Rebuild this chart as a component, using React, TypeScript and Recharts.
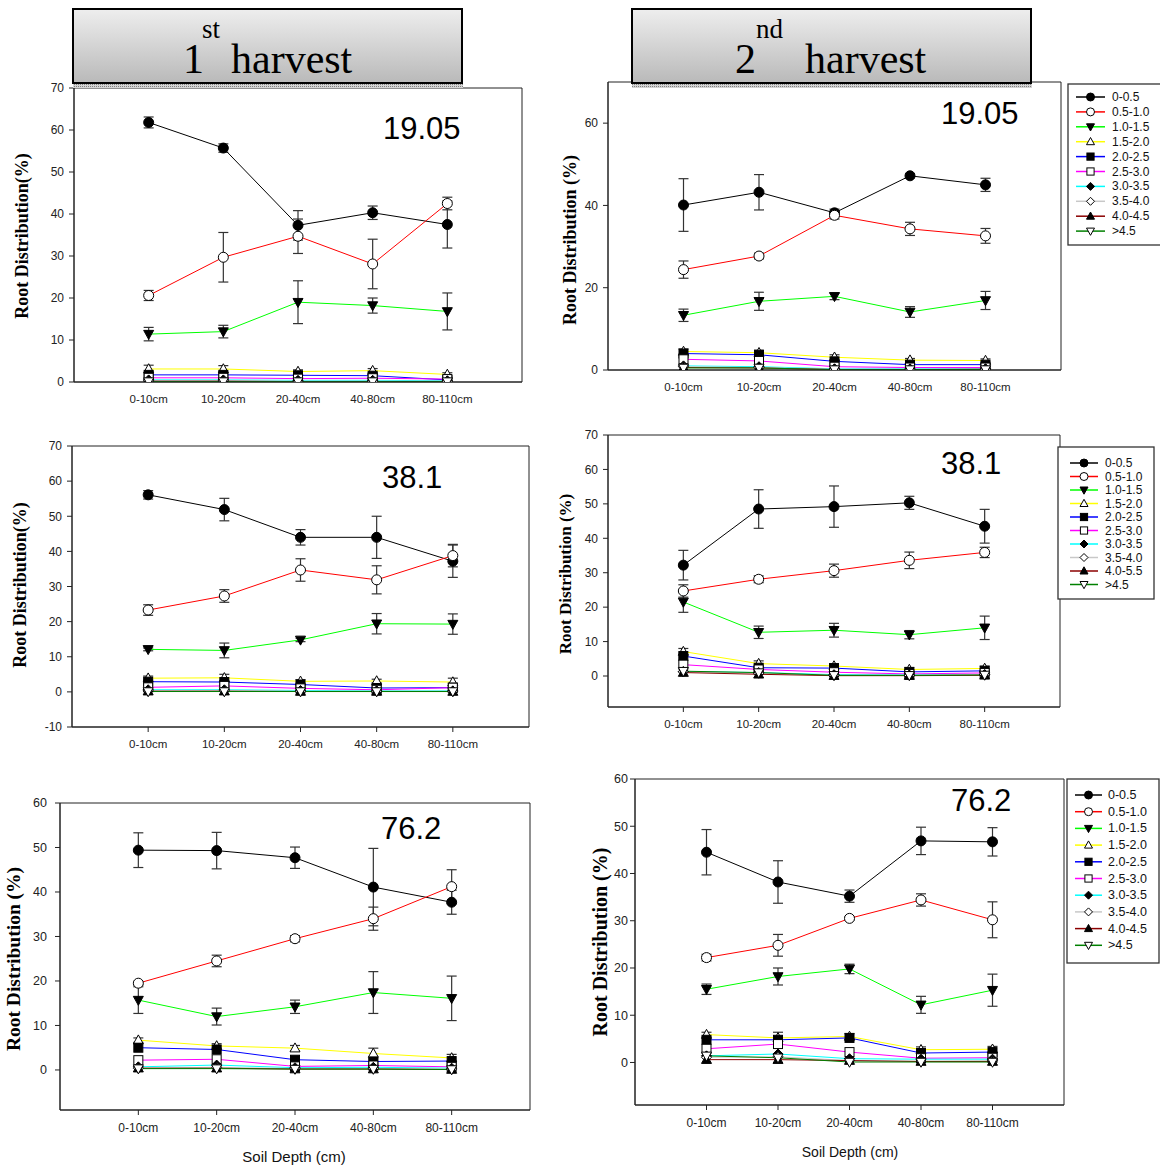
import React from 'react';
import { LineChart, Line, XAxis, YAxis, ErrorBar, ReferenceArea } from 'recharts';

const depths = ['0-10cm', '10-20cm', '20-40cm', '40-80cm', '80-110cm'];
const sizeClasses = ['0-0.5', '0.5-1.0', '1.0-1.5', '1.5-2.0', '2.0-2.5', '2.5-3.0', '3.0-3.5', '3.5-4.0', '4.0-4.5', '>4.5'];
// the middle legend in the source has a typo, kept as printed
const sizeClassesMid = ['0-0.5', '0.5-1.0', '1.0-1.5', '1.5-2.0', '2.0-2.5', '2.5-3.0', '3.0-3.5', '3.5-4.0', '4.0-5.5', '>4.5'];

// 1st harvest, 19.05
const h1a = [
  [61.8, 55.7, 37.3, 40.3, 37.5],
  [20.6, 29.7, 34.7, 28.1, 42.5],
  [11.4, 12.0, 19.0, 18.2, 16.8],
  [3.1, 3.1, 2.5, 2.7, 1.8],
  [1.7, 1.7, 1.6, 1.5, 0.5],
  [1.0, 1.0, 0.8, 0.9, 0.7],
  [0.5, 0.5, 0.4, 0.4, 0.3],
  [0.3, 0.3, 0.2, 0.2, 0.2],
  [0.2, 0.2, 0.1, 0.1, 0.1],
  [0.1, 0.1, 0.1, 0.1, 0.1],
];
const h1aErr = [
  [1.3, 1.0, 3.5, 1.6, 5.6],
  [1.2, 5.9, 4.1, 5.9, 1.5],
  [1.6, 1.5, 5.1, 1.8, 4.4],
  [0.9, 0.8, 0.4, 0.5, 0.4],
];

// 2nd harvest, 19.05
const h2a = [
  [40.1, 43.2, 38.2, 47.2, 45.0],
  [24.4, 27.7, 37.6, 34.3, 32.6],
  [13.3, 16.7, 17.9, 14.1, 16.9],
  [4.5, 4.2, 3.1, 2.4, 2.3],
  [4.0, 3.7, 2.1, 1.3, 1.3],
  [2.6, 2.2, 0.8, 0.6, 0.6],
  [1.0, 0.8, 0.3, 0.3, 0.3],
  [0.8, 0.6, 0.2, 0.2, 0.2],
  [0.6, 0.5, 0.1, 0.1, 0.2],
  [0.5, 0.5, 0.1, 0.1, 0.1],
];
const h2aErr = [
  [6.4, 4.3, 0.9, 0.5, 1.6],
  [2.1, 0.7, 0.9, 1.6, 1.8],
  [1.5, 2.2, 0.8, 1.3, 2.2],
  [0.6, 0.6, 0.6, 0.4, 0.4],
];

// 1st harvest, 38.1
const h1b = [
  [56.1, 51.9, 44.0, 44.0, 37.2],
  [23.3, 27.3, 34.7, 31.9, 38.8],
  [12.1, 11.8, 14.8, 19.4, 19.3],
  [3.9, 4.0, 3.0, 3.1, 2.8],
  [2.9, 2.8, 2.1, 1.1, 1.2],
  [1.3, 1.7, 1.0, 0.6, 1.2],
  [0.6, 0.6, 0.4, 0.3, 0.3],
  [0.3, 0.3, 0.2, 0.2, 0.2],
  [0.2, 0.2, 0.1, 0.1, 0.1],
  [0.1, 0.1, 0.1, 0.1, 0.1],
];
const h1bErr = [
  [1.2, 3.2, 2.2, 6.0, 4.6],
  [1.5, 1.8, 3.2, 4.0, 3.2],
  [0.4, 2.1, 0.5, 2.9, 2.9],
  [0.6, 1.0, 0.5, 0.5, 1.1],
];

// 2nd harvest, 38.1
const h2b = [
  [32.2, 48.5, 49.2, 50.3, 43.5],
  [24.7, 28.1, 30.6, 33.6, 35.9],
  [21.5, 12.7, 13.3, 12.0, 14.0],
  [7.1, 3.6, 2.9, 1.9, 2.2],
  [5.8, 2.4, 2.3, 1.2, 1.5],
  [3.3, 1.9, 1.1, 0.6, 0.9],
  [1.3, 1.0, 0.4, 0.3, 0.4],
  [1.2, 0.8, 0.2, 0.2, 0.4],
  [1.0, 0.5, 0.1, 0.1, 0.2],
  [1.4, 1.0, 0.2, 0.2, 0.3],
];
const h2bErr = [
  [4.3, 5.6, 6.0, 1.9, 4.9],
  [1.8, 1.0, 1.9, 2.4, 1.5],
  [3.0, 1.8, 2.0, 1.2, 3.4],
  [0.9, 0.8, 0.6, 0.5, 0.7],
];

// 1st harvest, 76.2
const h1c = [
  [49.4, 49.3, 47.7, 41.1, 37.7],
  [19.5, 24.5, 29.5, 34.0, 41.2],
  [15.7, 12.0, 14.2, 17.4, 16.1],
  [6.7, 5.4, 4.9, 3.7, 2.7],
  [5.0, 4.6, 2.3, 1.9, 2.0],
  [2.2, 2.4, 0.8, 1.0, 0.7],
  [0.7, 1.1, 0.5, 0.6, 0.4],
  [0.4, 0.6, 0.3, 0.3, 0.2],
  [0.4, 0.4, 0.2, 0.2, 0.1],
  [0.3, 0.3, 0.2, 0.2, 0.1],
];
const h1cErr = [
  [3.9, 4.1, 2.4, 8.7, 2.7],
  [0.4, 1.3, 0.7, 2.6, 3.8],
  [3.0, 1.9, 1.5, 4.7, 5.0],
  [0.5, 0.5, 0.6, 1.2, 0.8],
];

// 2nd harvest, 76.2
const h2c = [
  [44.5, 38.2, 35.2, 46.9, 46.7],
  [22.2, 24.8, 30.5, 34.4, 30.2],
  [15.5, 18.2, 19.8, 12.2, 15.3],
  [5.9, 5.2, 5.5, 2.7, 2.8],
  [4.8, 4.8, 5.2, 2.0, 2.2],
  [2.9, 3.9, 2.2, 0.9, 1.0],
  [1.4, 1.8, 0.8, 0.7, 0.7],
  [1.1, 1.2, 0.4, 0.3, 0.4],
  [0.6, 0.6, 0.4, 0.2, 0.2],
  [1.4, 1.0, 0.1, 0.1, 0.1],
];
const h2cErr = [
  [4.8, 4.5, 1.3, 2.9, 3.0],
  [0.7, 2.3, 0.4, 1.3, 3.8],
  [1.1, 1.8, 1.0, 1.8, 3.4],
  [0.5, 1.2, 0.6, 0.6, 0.6],
];

const seriesStyle = [
  { color: '#000000', shape: 'circle', filled: true },
  { color: '#ff0000', shape: 'circle', filled: false },
  { color: '#00ff00', shape: 'down', filled: true },
  { color: '#ffff00', shape: 'up', filled: false },
  { color: '#0000ff', shape: 'square', filled: true },
  { color: '#ff00ff', shape: 'square', filled: false },
  { color: '#00ffff', shape: 'diamond', filled: true },
  { color: '#c8c8c8', shape: 'diamond', filled: false },
  { color: '#8b0000', shape: 'up', filled: true },
  { color: '#008000', shape: 'down', filled: false },
];

const SANS = 'Liberation Sans, Arial, sans-serif';
const SERIF = 'Liberation Serif, Times New Roman, serif';

const Marker = ({ cx, cy, shape, filled, s }: any) => {
  const p = { fill: filled ? '#000' : '#fff', stroke: '#000', strokeWidth: 1 };
  const h = s / 2;
  if (shape === 'circle') return <circle cx={cx} cy={cy} r={h} {...p} />;
  if (shape === 'square') return <rect x={cx - h * 0.9} y={cy - h * 0.9} width={s * 0.9} height={s * 0.9} {...p} />;
  if (shape === 'diamond')
    return <polygon points={`${cx},${cy - h} ${cx + h},${cy} ${cx},${cy + h} ${cx - h},${cy}`} {...p} />;
  if (shape === 'up')
    return <polygon points={`${cx},${cy - h * 1.05} ${cx + h},${cy + h * 0.75} ${cx - h},${cy + h * 0.75}`} {...p} />;
  return <polygon points={`${cx},${cy + h * 1.05} ${cx + h},${cy - h * 0.75} ${cx - h},${cy - h * 0.75}`} {...p} />;
};

const panels = [
  { values: h1a, errors: h1aErr, box: { x: 74, y: 88, w: 448, h: 294 }, domain: [0, 70], ticks: [0, 10, 20, 30, 40, 50, 60, 70], xTick: false, fs: 12, xfs: 11.5, ym: 5 },
  { values: h2a, errors: h2aErr, box: { x: 608, y: 82, w: 453, h: 288 }, domain: [0, 70], ticks: [0, 20, 40, 60], xTick: false, fs: 12, xfs: 11.5, ym: 5 },
  { values: h1b, errors: h1bErr, box: { x: 72, y: 446, w: 457, h: 281 }, domain: [-10, 70], ticks: [-10, 0, 10, 20, 30, 40, 50, 60, 70], xTick: true, fs: 12, xfs: 11.5, ym: 5 },
  { values: h2b, errors: h2bErr, box: { x: 608, y: 435, w: 452, h: 272 }, domain: [-9, 70], ticks: [0, 10, 20, 30, 40, 50, 60, 70], xTick: true, fs: 12, xfs: 11.5, ym: 5 },
  { values: h1c, errors: h1cErr, box: { x: 60, y: 803, w: 470, h: 307 }, domain: [-9, 60], ticks: [0, 10, 20, 30, 40, 50, 60], xTick: true, fs: 12.5, xfs: 12, ym: 8 },
  { values: h2c, errors: h2cErr, box: { x: 635, y: 779, w: 429, h: 326 }, domain: [-9, 60], ticks: [0, 10, 20, 30, 40, 50, 60], xTick: true, fs: 12.5, xfs: 12, ym: 2 },
];

const AX = 60;

const Panel = ({ cfg }: any) => {
  const { box } = cfg;
  const rows = depths.map((d, i) => {
    const r: any = { x: i + 1, depth: d };
    cfg.values.forEach((s: number[], j: number) => (r['s' + j] = s[i]));
    cfg.errors.forEach((e: number[], j: number) => (r['e' + j] = e[i]));
    return r;
  });
  return (
    <div style={{ position: 'absolute', left: box.x - AX, top: box.y - 10 }}>
      <LineChart width={AX + box.w + 10} height={box.h + 50} data={rows} margin={{ top: 10, right: 10, left: 0, bottom: 0 }}>
        <XAxis
          type="number"
          dataKey="x"
          domain={[0, 6]}
          ticks={[1, 2, 3, 4, 5]}
          interval={0}
          allowDataOverflow
          tickFormatter={(v: number) => depths[v - 1]}
          height={40}
          tickSize={5}
          tickMargin={8}
          tickLine={cfg.xTick ? { stroke: '#222' } : false}
          axisLine={{ stroke: '#222' }}
          tick={{ fontSize: cfg.xfs, fill: '#222', fontFamily: SANS }}
        />
        <YAxis
          type="number"
          domain={cfg.domain}
          ticks={cfg.ticks}
          interval={0}
          allowDataOverflow
          width={AX}
          tickSize={5}
          tickMargin={cfg.ym}
          tickLine={{ stroke: '#222' }}
          axisLine={{ stroke: '#222' }}
          tick={{ fontSize: cfg.fs, fill: '#222', fontFamily: SANS }}
        />
        <ReferenceArea x1={0} x2={6} y1={cfg.domain[0]} y2={cfg.domain[1]} fill="none" stroke="#222" strokeWidth={1} />
        {sizeClasses.map((c, j) => {
          const st = seriesStyle[j];
          return (
            <Line
              key={c}
              name={c}
              dataKey={'s' + j}
              stroke={st.color}
              strokeWidth={1}
              isAnimationActive={false}
              dot={(p: any) => (
                <g key={`${c}-${p.index}`}>
                  <Marker cx={p.cx} cy={p.cy} shape={st.shape} filled={st.filled} s={10} />
                </g>
              )}
              activeDot={false}
            >
              {cfg.errors[j] && <ErrorBar dataKey={'e' + j} width={5} stroke="#333" strokeWidth={1.2} direction="y" />}
            </Line>
          );
        })}
      </LineChart>
    </div>
  );
};

const legends = [
  { labels: sizeClasses, box: { x: 1068, y: 84, w: 100, h: 161 }, y0: 97, step: 14.9, lx: 1076, lw: 29, tx: 1112, fs: 12 },
  { labels: sizeClassesMid, box: { x: 1058, y: 447, w: 96, h: 152 }, y0: 463, step: 13.5, lx: 1070, lw: 28, tx: 1105, fs: 12 },
  { labels: sizeClasses, box: { x: 1067, y: 779, w: 92, h: 184 }, y0: 795, step: 16.7, lx: 1075, lw: 27, tx: 1108, fs: 12.5 },
];

const Legend = ({ cfg }: any) => (
  <g>
    <rect x={cfg.box.x} y={cfg.box.y} width={cfg.box.w} height={cfg.box.h} fill="#fff" stroke="#333" strokeWidth={1.3} />
    {cfg.labels.map((l: string, j: number) => {
      const y = cfg.y0 + j * cfg.step;
      const st = seriesStyle[j];
      return (
        <g key={l + j}>
          <line x1={cfg.lx} x2={cfg.lx + cfg.lw} y1={y} y2={y} stroke={st.color} strokeWidth={1.5} />
          <Marker cx={cfg.lx + cfg.lw / 2} cy={y} shape={st.shape} filled={st.filled} s={8} />
          <text x={cfg.tx} y={y + 4} fontSize={cfg.fs} fontFamily={SANS} fill="#111">
            {l}
          </text>
        </g>
      );
    })}
  </g>
);

const yLabels = [
  { text: 'Root Distribution(%)', cx: 21.5, cy: 236, fs: 18 },
  { text: 'Root Distribution (%)', cx: 570, cy: 240, fs: 18 },
  { text: 'Root Distribution(%)', cx: 20, cy: 585, fs: 18 },
  { text: 'Root Distribution (%)', cx: 565, cy: 574, fs: 17 },
  { text: 'Root Distribution (%)', cx: 13, cy: 959, fs: 19.5 },
  { text: 'Root Distribution (%)', cx: 600, cy: 942, fs: 20 },
];

const panelTags = [
  { text: '19.05', x: 383, y: 139 },
  { text: '19.05', x: 941, y: 124 },
  { text: '38.1', x: 382, y: 488 },
  { text: '38.1', x: 941, y: 474 },
  { text: '76.2', x: 381, y: 839 },
  { text: '76.2', x: 951, y: 811 },
];

const headers = [
  { num: '1', sup: 'st', box: { x: 73, y: 9, w: 389, h: 74 }, nx: 183, sx: 202, hx: 231 },
  { num: '2', sup: 'nd', box: { x: 632, y: 9, w: 399, h: 74 }, nx: 735, sx: 756, hx: 805 },
];

export default function App() {
  return (
    <div style={{ position: 'relative', width: 1160, height: 1167, background: '#fff' }}>
      <style>{'body{margin:0}'}</style>
      {panels.map((p, i) => (
        <Panel key={i} cfg={p} />
      ))}
      <svg width={1160} height={1167} style={{ position: 'absolute', left: 0, top: 0, pointerEvents: 'none' }}>
        <defs>
          <linearGradient id="hdr" x1="0" y1="0" x2="0" y2="1">
            <stop offset="0" stopColor="#eeeeee" />
            <stop offset="1" stopColor="#b9b9b9" />
          </linearGradient>
          <pattern id="dots" width="2" height="2" patternUnits="userSpaceOnUse">
            <rect width="2" height="2" fill="#d4d4d4" />
            <rect width="1" height="1" fill="#808080" />
          </pattern>
        </defs>
        {headers.map((h, i) => (
          <g key={i}>
            <rect x={h.box.x} y={h.box.y + h.box.h} width={h.box.w + 1} height={5} fill="url(#dots)" />
            <rect x={h.box.x} y={h.box.y} width={h.box.w} height={h.box.h} fill="url(#hdr)" stroke="#000" strokeWidth={2} />
            <text x={h.nx} y={73} fontFamily={SERIF} fontSize={42} fill="#000">
              {h.num}
            </text>
            <text x={h.sx} y={38} fontFamily={SERIF} fontSize={27} fill="#000">
              {h.sup}
            </text>
            <text x={h.hx} y={73} fontFamily={SERIF} fontSize={42} fill="#000">
              harvest
            </text>
          </g>
        ))}
        {yLabels.map((l, i) => (
          <text
            key={i}
            x={l.cx}
            y={l.cy}
            transform={`rotate(-90 ${l.cx} ${l.cy})`}
            textAnchor="middle"
            dominantBaseline="central"
            fontFamily={SERIF}
            fontWeight="bold"
            fontSize={l.fs}
            fill="#000"
          >
            {l.text}
          </text>
        ))}
        {panelTags.map((t, i) => (
          <text key={i} x={t.x} y={t.y} fontFamily={SANS} fontSize={31} fill="#000">
            {t.text}
          </text>
        ))}
        <text x={294} y={1162} textAnchor="middle" fontFamily={SANS} fontSize={15} fill="#111">
          Soil Depth (cm)
        </text>
        <text x={850} y={1157} textAnchor="middle" fontFamily={SANS} fontSize={14} fill="#111">
          Soil Depth (cm)
        </text>
        {legends.map((l, i) => (
          <Legend key={i} cfg={l} />
        ))}
      </svg>
    </div>
  );
}
